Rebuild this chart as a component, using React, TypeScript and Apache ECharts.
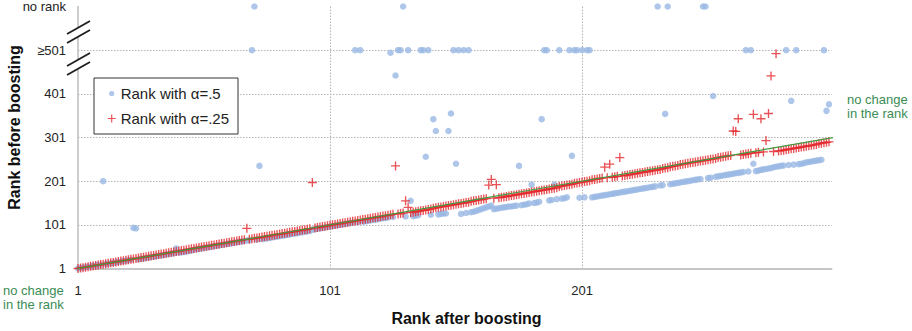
import React, { useEffect, useRef } from 'react';
import * as echarts from 'echarts';

const FONT = '"Liberation Sans", Arial, Helvetica, sans-serif';

const xTickLabels = ['1', '101', '201'];
const yTickLabels = ['1', '101', '201', '301', '401', '≥501', 'no rank'];
const seriesNames = ['Rank with α=.5', 'Rank with α=.25'];
const xTitle = 'Rank after boosting';
const yTitle = 'Rank before boosting';
const noteText = 'no change\nin the rank';

// Rank before boosting (501 = "≥501", 601 = "no rank") for rank after boosting = index + 1
const blueBefore = [
  /*   1 */ 1, 2, 3, 4, 5, 6, 7, 8, 9, 10,
  /*  11 */ 201, 11, 12, 13, 14, 15, 16, 17, 18, 19,
  /*  21 */ 20, 21, 94, 93, 22, 23, 24, 25, 26, 27,
  /*  31 */ 28, 29, 30, 31, 32, 33, 34, 35, 36, 47,
  /*  41 */ 37, 38, 39, 40, 41, 42, 44, 45, 46, 47,
  /*  51 */ 48, 49, 50, 51, 52, 53, 54, 55, 56, 57,
  /*  61 */ 58, 59, 60, 61, 62, 63, 64, 65, 66, 501,
  /*  71 */ 601, 67, 236, 68, 69, 70, 71, 72, 73, 74,
  /*  81 */ 75, 76, 77, 78, 79, 80, 81, 82, 83, 84,
  /*  91 */ 85, 86, 87, 90, 91, 92, 93, 94, 95, 96,
  /* 101 */ 97, 98, 99, 100, 101, 102, 103, 104, 105, 106,
  /* 111 */ 501, 107, 501, 108, 109, 110, 111, 112, 113, 114,
  /* 121 */ 115, 116, 117, 118, 495, 119, 443, 501, 501, 601,
  /* 131 */ 120, 501, 156, 121, 122, 123, 501, 501, 257, 501,
  /* 141 */ 124, 343, 316, 125, 126, 127, 127, 316, 356, 501,
  /* 151 */ 241, 501, 126, 501, 128, 501, 130, 131, 133, 135,
  /* 161 */ 137, 139, 141, 143, 145, 137, 138, 139, 140, 141,
  /* 171 */ 142, 143, 143, 144, 145, 236, 146, 147, 148, 150,
  /* 181 */ 193, 151, 152, 154, 343, 501, 501, 157, 158, 193,
  /* 191 */ 160, 501, 161, 162, 164, 501, 259, 501, 501, 163,
  /* 201 */ 501, 164, 501, 501, 164, 165, 166, 167, 168, 169,
  /* 211 */ 170, 171, 172, 173, 174, 175, 176, 177, 178, 179,
  /* 221 */ 180, 181, 182, 183, 184, 185, 186, 187, 188, 189,
  /* 231 */ 601, 191, 192, 355, 601, 194, 195, 196, 197, 198,
  /* 241 */ 199, 200, 201, 202, 203, 204, 205, 206, 601, 601,
  /* 251 */ 208, 209, 396, 211, 212, 213, 214, 215, 216, 217,
  /* 261 */ 218, 219, 220, 221, 222, 501, 223, 501, 241, 224,
  /* 271 */ 225, 227, 228, 229, 230, 231, 233, 234, 235, 236,
  /* 281 */ 237, 501, 238, 385, 239, 501, 240, 241, 242, 244,
  /* 291 */ 245, 246, 247, 248, 249, 250, 501, 362, 377,
];

const redBefore = [
  /*   1 */ 1, 2, 3, 4, 5, 6, 7, 8, 9, 10,
  /*  11 */ 11, 12, 13, 14, 15, 16, 17, 18, 19, 20,
  /*  21 */ 21, 22, 23, 24, 25, 26, 27, 28, 29, 30,
  /*  31 */ 31, 32, 33, 34, 35, 36, 37, 38, 39, 40,
  /*  41 */ 41, 42, 43, 44, 45, 46, 47, 48, 49, 50,
  /*  51 */ 51, 52, 53, 54, 55, 56, 57, 58, 59, 60,
  /*  61 */ 61, 62, 63, 64, 65, 66, 67, 93, 68, 69,
  /*  71 */ 70, 71, 72, 73, 74, 75, 76, 77, 78, 79,
  /*  81 */ 80, 81, 82, 83, 84, 85, 86, 87, 88, 89,
  /*  91 */ 90, 91, 92, 198, 94, 95, 96, 97, 98, 99,
  /* 101 */ 100, 101, 102, 103, 104, 105, 106, 107, 108, 109,
  /* 111 */ 110, 111, 112, 113, 114, 115, 116, 117, 118, 119,
  /* 121 */ 120, 121, 122, 123, 124, 125, 236, 126, 127, 128,
  /* 131 */ 156, 141, 129, 130, 131, 132, 133, 134, 135, 136,
  /* 141 */ 137, 139, 140, 141, 142, 143, 144, 145, 146, 147,
  /* 151 */ 148, 149, 150, 151, 152, 153, 155, 156, 157, 158,
  /* 161 */ 159, 160, 161, 192, 205, 162, 193, 163, 164, 165,
  /* 171 */ 166, 167, 168, 169, 170, 171, 172, 173, 174, 175,
  /* 181 */ 176, 177, 178, 179, 180, 181, 182, 183, 184, 185,
  /* 191 */ 186, 189, 190, 191, 192, 193, 194, 196, 197, 198,
  /* 201 */ 199, 200, 201, 202, 204, 205, 206, 207, 208, 233,
  /* 211 */ 209, 240, 210, 211, 212, 255, 213, 214, 215, 216,
  /* 221 */ 217, 218, 219, 220, 221, 222, 223, 224, 225, 226,
  /* 231 */ 227, 228, 230, 231, 232, 234, 235, 236, 237, 239,
  /* 241 */ 240, 241, 242, 243, 244, 245, 246, 247, 248, 249,
  /* 251 */ 250, 251, 252, 253, 255, 256, 257, 258, 259, 260,
  /* 261 */ 316, 315, 344, 261, 262, 263, 264, 265, 354, 266,
  /* 271 */ 267, 344, 268, 294, 356, 442, 269, 493, 270, 271,
  /* 281 */ 272, 273, 274, 275, 276, 277, 278, 279, 280, 281,
  /* 291 */ 282, 283, 284, 285, 287, 288, 289, 290, 291,
];

// the "no change" diagonal (rank after = rank before), ends in ranks
const noChangeLine = [-30, 329];

const PLUS = 'path://M0,4.25H10V5.75H0Z M4.25,0H5.75V10H4.25Z';
const DOT = 'path://M0,0M8,8M1.4,4A2.6,2.6,0,1,1,6.6,4A2.6,2.6,0,1,1,1.4,4Z';

const BLUE = '#98b8e4';
const RED = '#e2262b';
const GREEN = '#3f9b3f';
const NOTE_GREEN = '#3a8c55';

const toPoints = (arr: number[]) => arr.map((v, i) => [i, v - 1]);

export default function App() {
  const ref = useRef<HTMLDivElement>(null);
  useEffect(() => {
    if (!ref.current) return;
    const chart = echarts.init(ref.current, null, { renderer: 'svg' });
    const breakLine = (x1: number, y1: number, x2: number, y2: number) => ({
      type: 'line', z: 101, shape: { x1, y1, x2, y2 }, style: { stroke: '#1e1e1e', lineWidth: 1.8 },
    });
    const breakFill = (pts: number[][]) => ({
      type: 'polygon', z: 100, shape: { points: pts }, style: { fill: '#ffffff' },
    });
    chart.setOption({
      animation: false,
      textStyle: { fontFamily: FONT },
      grid: { left: 78, right: 80.5, top: 6.5, bottom: 62.5, containLabel: false },
      xAxis: {
        type: 'value', min: 0, max: 299, interval: 100,
        axisLine: { show: true, onZero: false, lineStyle: { color: '#c6c6c6', width: 2 } },
        axisTick: { show: false },
        axisLabel: {
          margin: 15, fontSize: 13, color: '#222', fontFamily: FONT, showMaxLabel: false,
          formatter: (v: number) => (v % 100 === 0 ? xTickLabels[v / 100] ?? '' : ''),
        },
        splitLine: {
          show: true, showMinLine: false, showMaxLine: false,
          lineStyle: { color: '#b4b4b4', width: 1, type: [1.5, 1.5] },
        },
      },
      yAxis: {
        type: 'value', min: 0, max: 600, interval: 100,
        axisLine: { show: true, onZero: false, lineStyle: { color: '#bdbdbd', width: 1.5 } },
        axisTick: { show: false },
        axisLabel: {
          margin: 12, fontSize: 13, color: '#222', fontFamily: FONT,
          formatter: (v: number) => (v % 100 === 0 ? yTickLabels[v / 100] ?? '' : ''),
        },
        splitLine: {
          show: true, showMinLine: false, showMaxLine: false,
          lineStyle: { color: '#b4b4b4', width: 1, type: [1.5, 1.5] },
        },
      },
      legend: {
        orient: 'vertical', left: 94, top: 78,
        padding: [8, 9, 8, 13.7], itemGap: 10, itemWidth: 8, itemHeight: 8,
        borderColor: '#333', borderWidth: 1, backgroundColor: '#fff',
        textStyle: { fontSize: 15, color: '#222', fontFamily: FONT },
        data: [
          { name: seriesNames[0], icon: DOT },
          { name: seriesNames[1], icon: PLUS },
        ],
        z: 20,
      },
      series: [
        {
          name: seriesNames[0], type: 'scatter', data: toPoints(blueBefore),
          symbol: 'circle', symbolSize: 6.5, itemStyle: { color: BLUE }, clip: false, z: 2,
        },
        {
          name: seriesNames[1], type: 'scatter', data: toPoints(redBefore),
          symbol: PLUS, symbolSize: 9, itemStyle: { color: RED }, clip: false, z: 3,
        },
        {
          type: 'line', data: noChangeLine.map((v) => [v - 1, v - 1]), symbol: 'none',
          clip: false, silent: true, lineStyle: { color: GREEN, width: 1.2 }, z: 4,
        },
      ],
      graphic: [
        breakFill([[67, 34], [90, 21], [90, 30], [67, 43]]),
        breakLine(67, 34, 90, 21),
        breakLine(67, 43, 90, 30),
        breakFill([[67, 66], [90, 53], [90, 62], [67, 75]]),
        breakLine(67, 66, 90, 53),
        breakLine(67, 75, 90, 62),
        {
          type: 'text', z: 100, x: 466.5, y: 318.5,
          style: {
            text: xTitle, fontSize: 16, fontWeight: 'bold', fontFamily: FONT, fill: '#111',
            align: 'center', verticalAlign: 'middle',
          },
        },
        {
          type: 'text', z: 100, x: 14.5, y: 127.5, rotation: Math.PI / 2,
          style: {
            text: yTitle, fontSize: 16, fontWeight: 'bold', fontFamily: FONT, fill: '#111',
            align: 'center', verticalAlign: 'middle',
          },
        },
        {
          type: 'text', z: 100, x: 3, y: 283,
          style: { text: noteText, fontSize: 13, lineHeight: 14.5, fontFamily: FONT, fill: NOTE_GREEN, align: 'left', verticalAlign: 'top' },
        },
        {
          type: 'text', z: 100, x: 847, y: 92,
          style: { text: noteText, fontSize: 13, lineHeight: 14, fontFamily: FONT, fill: NOTE_GREEN, align: 'left', verticalAlign: 'top' },
        },
      ],
    });
    return () => chart.dispose();
  }, []);
  return (
    <div
      ref={ref}
      style={{ position: 'absolute', left: 0, top: 0, width: 912, height: 331, background: '#fff' }}
    />
  );
}
